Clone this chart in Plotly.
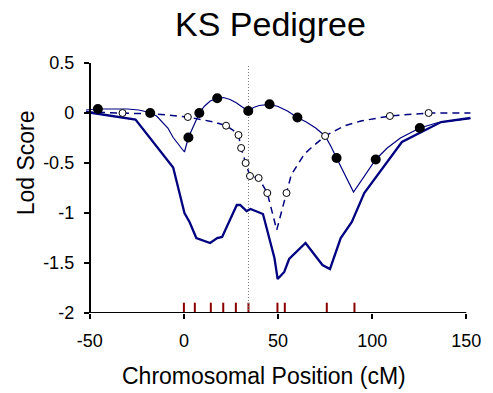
import plotly.graph_objects as go

# ---- data ----
# thick solid line (multipoint)
thick_x = [-52, -25.7, -5.7, 0.3, 3, 6.6, 13.9, 17.7, 20.3, 24.6, 28.1, 29.9, 33.3, 35.4, 42, 48.1,
           49.8, 53.3, 55.9, 64.6, 73.6, 77.6, 83.3, 89.2, 95.8, 115.8, 136.6, 152.2]
thick_y = [0.01, -0.066, -0.545, -1.0, -1.09, -1.25, -1.30, -1.25, -1.24, -1.07, -0.92, -0.92, -0.98, -0.96, -1.01, -1.45,
           -1.66, -1.59, -1.46, -1.30, -1.52, -1.56, -1.25, -1.09, -0.80, -0.29, -0.09, -0.05]

# thin solid line (two-point) and its filled markers
thin_x = [-52, -45.7, -30, -24, -20.5, -17.9, -14.5, -11.8, -8.5, -5.7, -2.5, 0.3, 2.4, 8.2, 11, 14, 17.7, 21,
          24.5, 28, 31, 34.2, 37, 40, 45.5, 50, 55, 60.3, 65, 70, 75, 78, 81.1, 85.5, 90.1, 101.9, 108, 115,
          125.3, 135, 145, 152.2]
thin_y = [0.03, 0.04, 0.04, 0.03, 0.015, 0.0, -0.03, -0.08, -0.15, -0.245, -0.32, -0.39, -0.245, 0.0, 0.07, 0.12,
          0.147, 0.155, 0.135, 0.1, 0.06, 0.02, 0.055, 0.075, 0.087, 0.065, 0.02, -0.045, -0.09, -0.15, -0.23,
          -0.33, -0.45, -0.62, -0.79, -0.465, -0.35, -0.25, -0.15, -0.095, -0.07, -0.055]
thin_mx = [-45.7, -17.9, 2.4, 8.2, 17.7, 34.2, 45.5, 60.3, 81.1, 101.9, 125.3]
thin_my = [0.04, 0.0, -0.245, 0.0, 0.147, 0.02, 0.087, -0.045, -0.45, -0.465, -0.15]

# dashed line and its open markers
dash_x = [-52, -32.6, -15, 2.1, 10, 16, 22.4, 26, 29, 30.4, 32.8, 35.1, 39.7, 44.3, 49.3, 54.5, 57, 60.3,
          64, 67.2, 75, 85, 94, 109.4, 130, 152.2]
dash_y = [0.01, 0.0, -0.01, -0.04, -0.065, -0.09, -0.127, -0.17, -0.22, -0.35, -0.5, -0.63, -0.65, -0.80,
          -1.17, -0.80, -0.62, -0.52, -0.41, -0.355, -0.23, -0.13, -0.08, -0.03, 0.0, 0.0]
dash_mx = [-32.6, 2.1, 22.4, 29, 30.4, 32.8, 35.1, 39.7, 44.3, 54.5, 75, 109.4, 130]
dash_my = [0.0, -0.04, -0.127, -0.22, -0.35, -0.5, -0.63, -0.65, -0.80, -0.80, -0.23, -0.03, 0.0]

# genetic marker positions (red ticks on x axis)
marker_pos = [0, 5.8, 14.3, 20.9, 27.6, 34.3, 49.7, 53.6, 75.9, 90.6]
marker_base = -2.0
marker_top = -1.897

# peak position (dotted vertical line)
peak_x = 34.3
peak_top = 0.48

x_ticks = [-50, 0, 50, 100, 150]
x_ticktext = ["-50", "0", "50", "100", "150"]
y_ticks = [-2, -1.5, -1, -0.5, 0, 0.5]
y_ticktext = ["-2", "-1.5", "-1", "-0.5", "0", "0.5"]

NAVY = "#000080"
FONT = "Liberation Sans, Arial, sans-serif"

fig = go.Figure()

# red marker ticks
tx, ty = [], []
for p in marker_pos:
    tx += [p, p, None]
    ty += [marker_base, marker_top, None]
fig.add_trace(go.Scatter(x=tx, y=ty, mode="lines", line=dict(color="#8b0000", width=2),
                         hoverinfo="skip", showlegend=False))

# dotted vertical line
fig.add_trace(go.Scatter(x=[peak_x, peak_x], y=[marker_base, peak_top], mode="lines",
                         line=dict(color="#777777", width=1, dash="1px,2px"), showlegend=False))

fig.add_trace(go.Scatter(x=thick_x, y=thick_y, mode="lines", line=dict(color=NAVY, width=2.3),
                         showlegend=False))
fig.add_trace(go.Scatter(x=dash_x, y=dash_y, mode="lines", line=dict(color=NAVY, width=1.5, dash="7px,5px"),
                         showlegend=False))
fig.add_trace(go.Scatter(x=thin_x, y=thin_y, mode="lines", line=dict(color=NAVY, width=1.2),
                         showlegend=False))
fig.add_trace(go.Scatter(x=dash_mx, y=dash_my, mode="markers",
                         marker=dict(symbol="circle", size=7, color="white", line=dict(color="black", width=1)),
                         showlegend=False))
fig.add_trace(go.Scatter(x=thin_mx, y=thin_my, mode="markers",
                         marker=dict(symbol="circle", size=10, color="black", line=dict(width=0)),
                         showlegend=False))

xr = [-52, 152.5]
fig.update_layout(
    width=493, height=393,
    margin=dict(l=86, r=14, t=63, b=80),
    paper_bgcolor="white", plot_bgcolor="white",
    font=dict(family=FONT, color="black", size=18),
    xaxis=dict(range=xr, showgrid=False, zeroline=False, showline=False,
               tickvals=x_ticks, ticktext=x_ticktext, ticks="outside", ticklen=5, tickwidth=2,
               tickcolor="black", tickfont=dict(size=18), ticklabelstandoff=6),
    yaxis=dict(range=[-2, 0.5], showgrid=False, zeroline=False, showline=True, linecolor="black",
               linewidth=2, tickvals=y_ticks, ticktext=y_ticktext, ticks="outside", ticklen=5,
               tickwidth=2, tickcolor="black", tickfont=dict(size=18), ticklabelstandoff=6,
               anchor="free", position=(x_ticks[0] - xr[0]) / (xr[1] - xr[0])),
    shapes=[dict(type="line", xref="x", yref="y", x0=x_ticks[0], x1=x_ticks[-1], y0=-2, y1=-2,
                 line=dict(color="black", width=2))],
    annotations=[
        dict(text="KS Pedigree", xref="paper", yref="paper", x=0.478, y=1.156, showarrow=False,
             xanchor="center", yanchor="middle", font=dict(size=34)),
        dict(text="Chromosomal Position (cM)", xref="paper", yref="paper", x=0.463, y=-0.252,
             showarrow=False, xanchor="center", yanchor="middle", font=dict(size=23)),
        dict(text="Lod Score", xref="paper", yref="paper", x=-0.155, y=0.6, textangle=-90,
             showarrow=False, xanchor="center", yanchor="middle", font=dict(size=23)),
    ],
)

fig.write_html("out.html")
